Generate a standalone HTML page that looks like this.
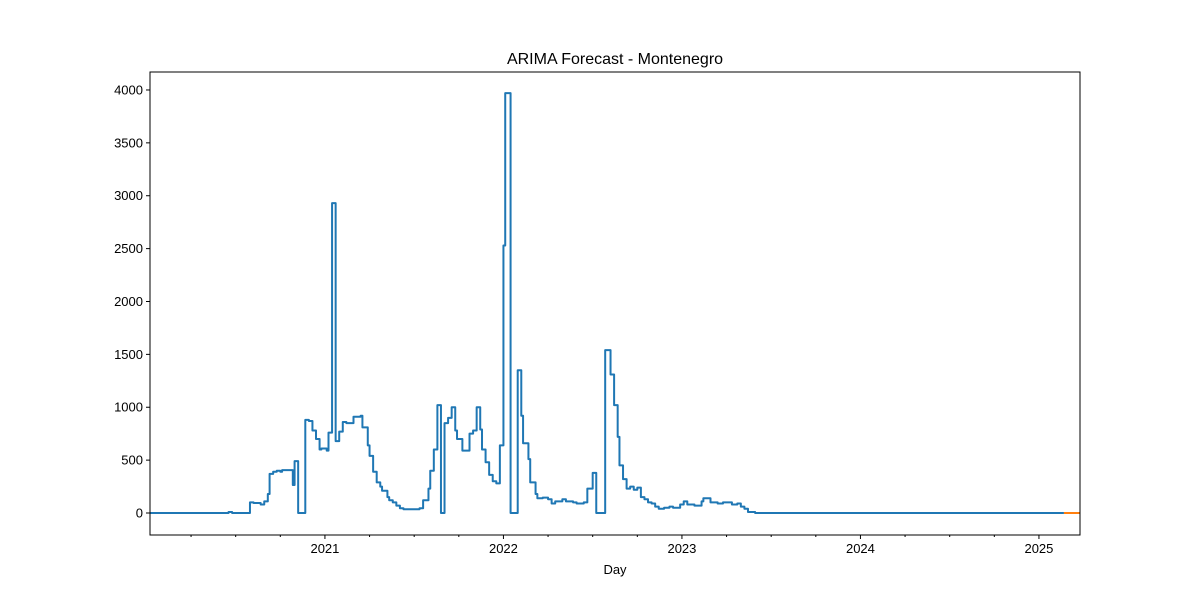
<!DOCTYPE html>
<html><head><meta charset="utf-8"><style>
body{margin:0;background:#fff;font-family:"Liberation Sans","DejaVu Sans",sans-serif}
</style></head><body>
<svg id="chart" width="1200" height="600" xmlns="http://www.w3.org/2000/svg">
<rect width="1200" height="600" fill="#fff"/>
<text x="615" y="64" text-anchor="middle" font-size="16">ARIMA Forecast - Montenegro</text>
<text x="615" y="574" text-anchor="middle" font-size="13">Day</text>
<g id="axes"></g>
<g id="series"></g>
<rect x="150" y="72" width="930" height="463" fill="none" stroke="#000" stroke-width="1"/>
</svg>
<script>
const dates=[2020.02,2020.46,2020.48,2020.58,2020.60,2020.64,2020.66,2020.68,2020.69,2020.71,2020.73,2020.75,2020.76,2020.82,2020.83,2020.85,2020.89,2020.91,2020.93,2020.95,2020.97,2020.98,2021.01,2021.02,2021.04,2021.06,2021.08,2021.10,2021.12,2021.16,2021.20,2021.21,2021.24,2021.25,2021.27,2021.29,2021.31,2021.32,2021.35,2021.36,2021.38,2021.40,2021.42,2021.44,2021.48,2021.53,2021.55,2021.58,2021.59,2021.61,2021.63,2021.65,2021.67,2021.69,2021.71,2021.73,2021.74,2021.77,2021.81,2021.83,2021.85,2021.87,2021.88,2021.90,2021.92,2021.94,2021.96,2021.98,2022.00,2022.01,2022.04,2022.08,2022.10,2022.11,2022.14,2022.15,2022.18,2022.19,2022.22,2022.25,2022.27,2022.29,2022.33,2022.35,2022.39,2022.41,2022.45,2022.47,2022.50,2022.52,2022.57,2022.60,2022.62,2022.64,2022.65,2022.67,2022.69,2022.71,2022.73,2022.75,2022.77,2022.79,2022.81,2022.83,2022.85,2022.87,2022.90,2022.93,2022.95,2022.99,2023.01,2023.03,2023.07,2023.11,2023.12,2023.16,2023.20,2023.23,2023.28,2023.31,2023.33,2023.35,2023.37,2023.41,2025.14];
const values=[0,10,0,100,95,80,110,180,370,390,400,390,405,265,490,0,880,870,780,700,600,610,590,760,2930,680,770,860,850,910,920,810,640,540,390,290,250,210,150,120,100,70,45,35,35,45,120,230,400,600,1020,0,850,900,1000,780,700,590,750,780,1000,790,600,480,360,300,280,640,2530,3970,0,1350,920,660,510,290,180,140,145,130,90,110,130,110,100,90,100,230,380,0,1540,1310,1020,720,450,320,230,250,220,240,150,130,100,90,60,40,50,60,50,80,110,80,70,110,140,100,90,100,80,90,60,40,10,0,0];
const forecastDates=[2025.14,2025.23];
const forecastValues=[0,0];
const yTicks=[0,500,1000,1500,2000,2500,3000,3500,4000];
const xTickYears=[2021,2022,2023,2024,2025];
const X0=150,X1=1080,Y0=535,Y1=72,DMIN=2020.02,DMAX=2025.23,VMIN=-208,VMAX=4170;
const sx=d=>X0+(d-DMIN)/(DMAX-DMIN)*(X1-X0);
const sy=v=>Y0-(v-VMIN)/(VMAX-VMIN)*(Y0-Y1);
const NS="http://www.w3.org/2000/svg";
const axes=document.getElementById('axes'),ser=document.getElementById('series');
function mk(tag,attrs,parent){const e=document.createElementNS(NS,tag);for(const k in attrs)e.setAttribute(k,attrs[k]);parent.appendChild(e);return e;}
yTicks.forEach(v=>{const y=sy(v);
const t=mk('line',{x1:X0-4,x2:X0,y1:y,y2:y,stroke:'#000'},axes);


const l=mk('text',{x:X0-7,y:y+4.5,'text-anchor':'end','font-size':'13'},axes);l.textContent=v;

});
for(let y=2020;y<=2025;y++)for(let q=0;q<4;q++){const d=y+q*0.25;if(d<DMIN-0.001||d>DMAX)continue;const x=sx(d);const major=q===0&&xTickYears.includes(y);
const t=mk('line',{x1:x,x2:x,y1:Y0,y2:Y0+(major?4:2),stroke:'#000'},axes);


if(major){const l=mk('text',{x:x,y:Y0+18,'text-anchor':'middle','font-size':'13'},axes);l.textContent=y;

}}
function step(ds,vs){let p='';for(let i=0;i<ds.length;i++){const x=sx(ds[i]),y=sy(vs[i]);if(i===0)p='M'+x+' '+y;else p+='H'+x+'V'+y;}return p;}
const actual=mk('path',{d:step(dates,values),fill:'none',stroke:'#1f77b4','stroke-width':2,'stroke-linejoin':'round'},ser);


const fc=mk('path',{d:step(forecastDates,forecastValues),fill:'none',stroke:'#ff7f0e','stroke-width':2},ser);


</script>
</body></html>
